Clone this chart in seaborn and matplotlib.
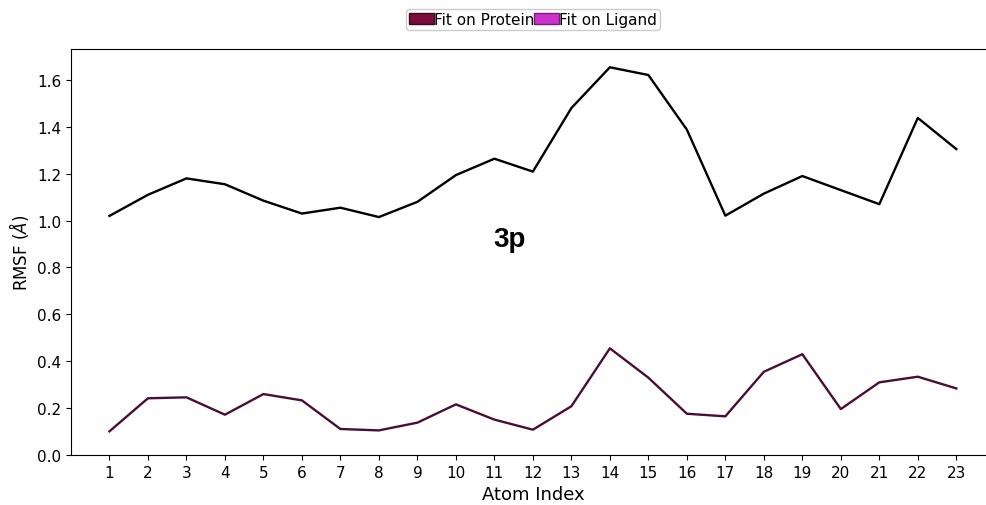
import numpy as np
import pandas as pd
import matplotlib
matplotlib.use("Agg")
import matplotlib.pyplot as plt
import seaborn as sns
from matplotlib.patches import Patch

# RMSF per atom
atom_index = list(range(1, 24))
rmsf_protein_fit = [1.02, 1.11, 1.18, 1.155, 1.085, 1.03, 1.055, 1.015, 1.08, 1.194,
                    1.264, 1.209, 1.48, 1.654, 1.621, 1.388, 1.021, 1.115, 1.19,
                    1.13, 1.07, 1.438, 1.305]
rmsf_ligand_fit = [0.101, 0.242, 0.246, 0.172, 0.26, 0.233, 0.111, 0.105, 0.138, 0.216,
                   0.151, 0.108, 0.208, 0.455, 0.33, 0.176, 0.165, 0.355, 0.43,
                   0.196, 0.31, 0.334, 0.284]
legend_labels = ["Fit on Protein", "Fit on Ligand"]
legend_colors = ["#7a0d3c", "#cc33cc"]
legend_edges = ["#3d0a1e", "#7a1a7a"]

df = pd.DataFrame({
    "atom": atom_index * 2,
    "rmsf": rmsf_protein_fit + rmsf_ligand_fit,
    "fit": ["protein"] * len(atom_index) + ["ligand"] * len(atom_index),
})

fig = plt.figure(figsize=(9.87, 5.06), dpi=100)
ax = fig.add_axes([0.0719, 0.0988, 0.936, 0.8024])

sns.lineplot(data=df, x="atom", y="rmsf", hue="fit",
             palette={"protein": "black", "ligand": "#4a0e36"},
             linewidth=1.7, legend=False, ax=ax)

ax.set_xlim(0, 24)
ax.set_ylim(0, 1.732)
ax.set_xticks(atom_index)
ax.set_yticks(np.arange(0, 1.61, 0.2))
ax.set_yticklabels([f"{v:.1f}" for v in np.arange(0, 1.61, 0.2)])
ax.tick_params(labelsize=11)
ax.spines["right"].set_visible(False)
ax.set_xlabel("Atom Index", fontsize=13)
ax.set_ylabel(r"RMSF ($\AA$)", fontsize=12)

ax.text(11.4, 0.92, "3p", fontsize=20, fontweight="bold",
        family="Liberation Sans", ha="center", va="center")

handles = [Patch(facecolor=c, edgecolor=e, label=l)
           for c, e, l in zip(legend_colors, legend_edges, legend_labels)]
fig.legend(handles=handles, loc="center", bbox_to_anchor=(0.54, 0.96),
           ncol=2, fontsize=11, handlelength=1.6, handleheight=0.7,
           handletextpad=0.0, columnspacing=0.0, borderpad=0.2,
           fancybox=True, framealpha=1)

plt.savefig("out.png", dpi=100)
